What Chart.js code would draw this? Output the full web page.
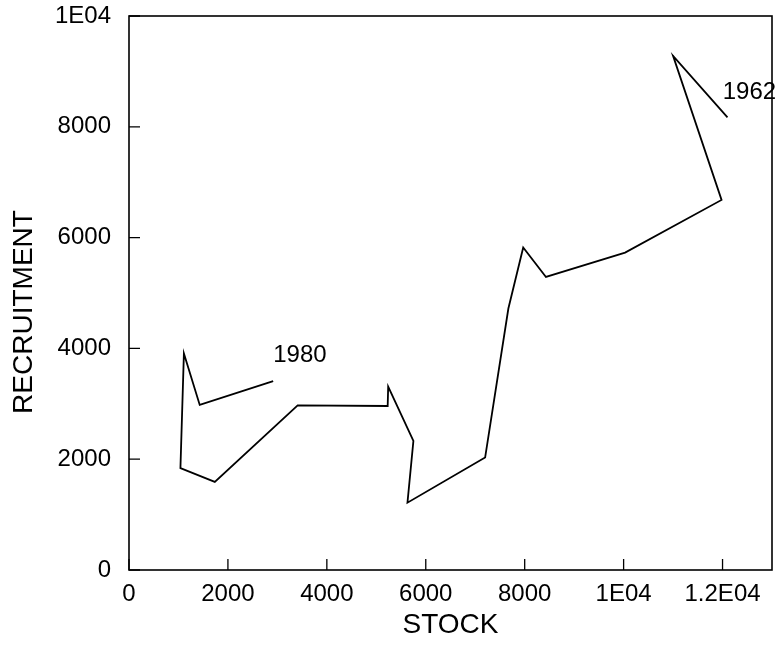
<!DOCTYPE html>
<html><head><meta charset="utf-8">
<script src="https://cdn.jsdelivr.net/npm/chart.js@4/dist/chart.umd.min.js"></script>
<style>html,body{margin:0;padding:0;background:#fff}#wrap{width:778px;height:645px}</style>
</head><body><div id="wrap"><canvas id="c" width="778" height="645"></canvas></div>
<script>
// Stock-recruitment trajectory, 1962 -> 1980
const stock       = [12100, 11000, 11980, 10030, 8430, 7970, 7670, 7200, 5630, 5750, 5240, 5230, 3410, 1735, 1040, 1110, 1430, 2915];
const recruitment = [8170,  9280,  6680,  5730,  5290, 5820, 4720, 2030, 1215, 2330, 3310, 2960, 2970, 1590, 1840, 3910, 2980, 3410];
const xTicks      = [0, 2000, 4000, 6000, 8000, 10000, 12000];
const xTickLabels = ['0', '2000', '4000', '6000', '8000', '1E04', '1.2E04'];
const yTicks      = [0, 2000, 4000, 6000, 8000, 10000];
const yTickLabels = ['0', '2000', '4000', '6000', '8000', '1E04'];
const yearLabels  = ['1962', '1980'];
const yearLabelX  = [12543, 3455];
const yearLabelY  = [8619, 3881];
const xTitle = 'STOCK';
const yTitle = 'RECRUITMENT';

const FONT = '"Liberation Sans", Arial, sans-serif';

const framePlugin = {
  id: 'frame',
  afterDraw(chart) {
    const ctx = chart.ctx;
    const a = chart.chartArea;
    const xs = chart.scales.x, ys = chart.scales.y;
    ctx.save();
    ctx.strokeStyle = '#000';
    ctx.lineWidth = 1.6;
    ctx.strokeRect(a.left, a.top, a.right - a.left, a.bottom - a.top);
    ctx.lineWidth = 1.3;
    ctx.beginPath();
    xTicks.forEach(v => {
      const px = xs.getPixelForValue(v);
      ctx.moveTo(px, a.bottom);
      ctx.lineTo(px, a.bottom - 11);
    });
    yTicks.forEach(v => {
      const py = ys.getPixelForValue(v);
      ctx.moveTo(a.left, py);
      ctx.lineTo(a.left + 11, py);
    });
    ctx.stroke();
    // year annotations
    ctx.fillStyle = '#000';
    ctx.font = '24px ' + FONT;
    ctx.textAlign = 'center';
    ctx.textBaseline = 'middle';
    yearLabels.forEach((t, i) => {
      ctx.fillText(t, xs.getPixelForValue(yearLabelX[i]), ys.getPixelForValue(yearLabelY[i]));
    });
    // axis titles
    ctx.font = '28px ' + FONT;
    ctx.textBaseline = 'alphabetic';
    ctx.fillText(xTitle, (a.left + a.right) / 2, a.bottom + 63);
    ctx.translate(32, (a.top + a.bottom) / 2 + 19);
    ctx.rotate(-Math.PI / 2);
    ctx.fillText(yTitle, 0, 0);
    ctx.restore();
  }
};

function zeroPad(s) { s.paddingTop = 0; s.paddingBottom = 0; s.paddingLeft = 0; s.paddingRight = 0; }

new Chart(document.getElementById('c'), {
  type: 'scatter',
  data: {
    datasets: [{
      data: stock.map((x, i) => ({ x: x, y: recruitment[i] })),
      showLine: true,
      borderColor: '#000',
      backgroundColor: '#000',
      borderWidth: 1.8,
      pointRadius: 0,
      tension: 0,
      fill: false
    }]
  },
  options: {
    responsive: false,
    animation: false,
    devicePixelRatio: 1,
    layout: { padding: { top: 16, right: 6, left: 0, bottom: 0 } },
    plugins: { legend: { display: false }, tooltip: { enabled: false } },
    scales: {
      x: {
        type: 'linear', min: 0, max: 13000,
        afterBuildTicks: s => { s.ticks = xTicks.map(v => ({ value: v })); },
        afterFit: s => { s.height = 75; zeroPad(s); },
        ticks: {
          callback: (v, i) => xTickLabels[i],
          font: { family: FONT, size: 24 }, color: '#000',
          padding: 10, maxRotation: 0, autoSkip: false
        },
        grid: { display: false, drawTicks: false },
        border: { display: false }
      },
      y: {
        type: 'linear', min: 0, max: 10000,
        afterBuildTicks: s => { s.ticks = yTicks.map(v => ({ value: v })); },
        afterFit: s => { s.width = 129; zeroPad(s); },
        ticks: {
          callback: (v, i) => yTickLabels[i],
          font: { family: FONT, size: 24 }, color: '#000',
          padding: 18, autoSkip: false
        },
        grid: { display: false, drawTicks: false },
        border: { display: false }
      }
    }
  },
  plugins: [framePlugin]
});
</script></body></html>
